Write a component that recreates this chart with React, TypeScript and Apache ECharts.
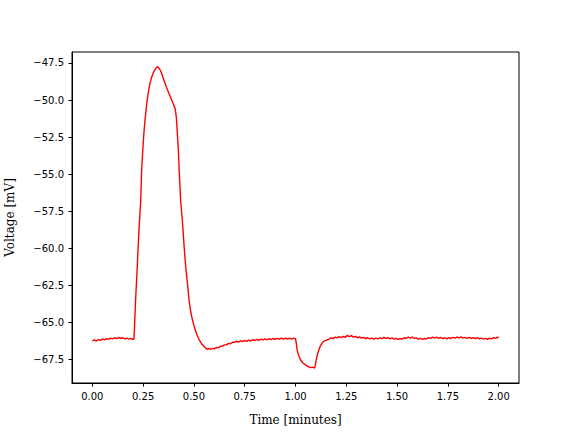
import React, { useEffect, useRef } from "react";
import * as echarts from "echarts";

const xTicks = [0, 0.25, 0.5, 0.75, 1.0, 1.25, 1.5, 1.75, 2.0];
const yTicks = [-67.5, -65, -62.5, -60, -57.5, -55, -52.5, -50, -47.5];

const baselineStart: [number, number][] = [
  [0.000, -66.23], [0.010, -66.17], [0.020, -66.24], [0.030, -66.14], [0.040, -66.20], [0.050, -66.10],
  [0.060, -66.16], [0.070, -66.08], [0.080, -66.13], [0.090, -66.04], [0.100, -66.10], [0.110, -66.02],
  [0.120, -66.08], [0.130, -66.00], [0.140, -66.07], [0.150, -66.02], [0.160, -66.09], [0.170, -66.04],
  [0.180, -66.12], [0.190, -66.06], [0.200, -66.14], [0.205, -66.08],
];

const spike: [number, number][] = [
  [0.207, -65.48], [0.213, -63.47], [0.222, -61.0], [0.230, -58.63], [0.238, -56.85], [0.243, -54.61],
  [0.248, -53.48], [0.253, -52.36], [0.260, -51.24], [0.265, -50.62], [0.269, -50.11], [0.275, -49.55],
  [0.282, -48.98], [0.289, -48.60], [0.296, -48.31], [0.304, -48.05], [0.312, -47.86], [0.317, -47.80],
  [0.322, -47.75], [0.328, -47.85], [0.333, -47.95], [0.338, -48.09], [0.346, -48.40], [0.355, -48.76],
  [0.364, -49.10], [0.374, -49.44], [0.384, -49.78], [0.394, -50.11], [0.401, -50.35], [0.407, -50.56],
  [0.411, -50.90], [0.414, -51.24], [0.419, -52.36], [0.424, -53.48], [0.427, -54.61], [0.431, -55.70],
  [0.435, -56.85], [0.443, -58.07], [0.448, -59.10], [0.453, -60.09], [0.460, -61.30], [0.468, -62.33],
  [0.476, -63.47], [0.482, -64.05], [0.489, -64.59], [0.497, -65.05], [0.506, -65.48], [0.516, -65.85],
  [0.526, -66.16], [0.538, -66.42], [0.550, -66.61],
];

const recovery: [number, number][] = [
  [0.558, -66.72], [0.567, -66.80], [0.575, -66.74], [0.583, -66.81], [0.592, -66.73], [0.600, -66.77],
  [0.610, -66.68], [0.620, -66.70], [0.630, -66.60], [0.640, -66.58], [0.650, -66.50], [0.660, -66.50],
  [0.670, -66.40], [0.680, -66.42], [0.690, -66.32], [0.700, -66.33], [0.710, -66.25], [0.720, -66.31],
  [0.730, -66.22], [0.740, -66.28], [0.750, -66.20], [0.760, -66.27], [0.770, -66.18], [0.780, -66.24],
  [0.790, -66.15], [0.800, -66.21], [0.810, -66.13], [0.820, -66.19], [0.830, -66.11], [0.840, -66.17],
  [0.850, -66.09], [0.860, -66.16], [0.870, -66.08], [0.880, -66.14], [0.890, -66.07], [0.900, -66.13],
  [0.910, -66.06], [0.920, -66.12], [0.930, -66.05], [0.940, -66.12], [0.950, -66.05], [0.960, -66.11],
  [0.970, -66.04], [0.980, -66.12], [0.990, -66.05], [1.000, -66.10],
];

const dip: [number, number][] = [
  [1.004, -66.40], [1.008, -66.84], [1.015, -67.20], [1.025, -67.51], [1.036, -67.72], [1.049, -67.85],
  [1.060, -67.95], [1.074, -68.03], [1.084, -68.00], [1.094, -68.07], [1.098, -67.85], [1.102, -67.51],
  [1.108, -67.15], [1.115, -66.84], [1.122, -66.58], [1.131, -66.38], [1.140, -66.25], [1.150, -66.20],
  [1.164, -66.11],
];

const baselineEnd: [number, number][] = [
  [1.175, -66.02], [1.185, -66.08], [1.195, -65.98], [1.205, -66.03], [1.215, -65.95], [1.225, -66.01],
  [1.235, -65.93], [1.245, -65.99], [1.255, -65.86], [1.265, -65.95], [1.275, -65.88], [1.285, -65.98],
  [1.295, -65.93], [1.305, -66.02], [1.315, -65.96], [1.325, -66.05], [1.335, -65.99], [1.345, -66.08],
  [1.355, -66.02], [1.365, -66.10], [1.375, -66.04], [1.385, -66.11], [1.395, -66.04], [1.405, -66.10],
  [1.415, -66.03], [1.425, -66.08], [1.435, -66.00], [1.445, -66.07], [1.455, -66.01], [1.465, -66.09],
  [1.475, -66.03], [1.485, -66.11], [1.495, -66.06], [1.505, -66.13], [1.515, -66.07], [1.525, -66.11],
  [1.535, -66.02], [1.545, -66.07], [1.555, -65.97], [1.565, -66.05], [1.575, -65.98], [1.585, -66.07],
  [1.595, -66.03], [1.605, -66.11], [1.615, -66.06], [1.625, -66.13], [1.635, -66.07], [1.645, -66.10],
  [1.655, -66.01], [1.665, -66.06], [1.675, -65.97], [1.685, -66.04], [1.695, -65.98], [1.705, -66.06],
  [1.715, -66.00], [1.725, -66.08], [1.735, -66.02], [1.745, -66.09], [1.755, -66.01], [1.765, -66.07],
  [1.775, -65.99], [1.785, -66.05], [1.795, -65.97], [1.805, -66.03], [1.815, -65.96], [1.825, -66.04],
  [1.835, -65.99], [1.845, -66.06], [1.855, -66.00], [1.865, -66.07], [1.875, -66.01], [1.885, -66.08],
  [1.895, -66.02], [1.905, -66.09], [1.915, -66.04], [1.925, -66.12], [1.935, -66.06], [1.945, -66.13],
  [1.955, -66.05], [1.965, -66.10], [1.975, -66.01], [1.985, -66.06], [1.995, -65.98], [2.000, -66.02],
];

const fmt = (v: number, d: number) => (v < 0 ? "\u2212" : "") + Math.abs(v).toFixed(d);

export default function App() {
  const ref = useRef<HTMLDivElement>(null);
  useEffect(() => {
    if (!ref.current) return;
    const chart = echarts.init(ref.current, null, { renderer: "svg" });
    const data = [...baselineStart, ...spike, ...recovery, ...dip, ...baselineEnd];
    const tickFont = { fontFamily: "DejaVu Sans", fontSize: 10, color: "#000" };
    const nameFont = { fontFamily: "DejaVu Serif", fontSize: 12, color: "#000" };
    chart.setOption({
      animation: false,
      backgroundColor: "#fff",
      grid: {
        left: 72, right: 57, top: 52, bottom: 49,
        show: true, borderColor: "#000", borderWidth: 1,
        containLabel: false, outerBoundsMode: "none",
      },
      xAxis: {
        type: "value",
        min: -0.1,
        max: 2.1,
        axisLine: { show: true, onZero: false, lineStyle: { color: "#000", width: 1 } },
        axisTick: { show: true, length: 3.5, customValues: xTicks, lineStyle: { color: "#000" } },
        axisLabel: { customValues: xTicks, formatter: (v: number) => fmt(v, 2), margin: 8, ...tickFont },
        splitLine: { show: false },
        name: "Time [minutes]",
        nameLocation: "middle",
        nameGap: 31,
        nameTextStyle: nameFont,
      },
      yAxis: {
        type: "value",
        min: -69.07,
        max: -46.76,
        axisLine: { show: true, onZero: false, lineStyle: { color: "#000", width: 1 } },
        axisTick: { show: true, length: 3.5, customValues: yTicks, lineStyle: { color: "#000" } },
        axisLabel: { customValues: yTicks, formatter: (v: number) => fmt(v, 1), margin: 8, ...tickFont },
        splitLine: { show: false },
        name: "Voltage [mV]",
        nameLocation: "middle",
        nameGap: 56,
        nameRotate: 90,
        nameTextStyle: nameFont,
      },
      series: [
        {
          type: "line",
          data,
          showSymbol: false,
          symbol: "none",
          lineStyle: { color: "#ff0000", width: 1.4 },
          itemStyle: { color: "#ff0000" },
        },
      ],
    });
    return () => chart.dispose();
  }, []);
  return <div ref={ref} style={{ position: "absolute", left: 0, top: 0, width: 576, height: 432, background: "#fff" }} />;
}
